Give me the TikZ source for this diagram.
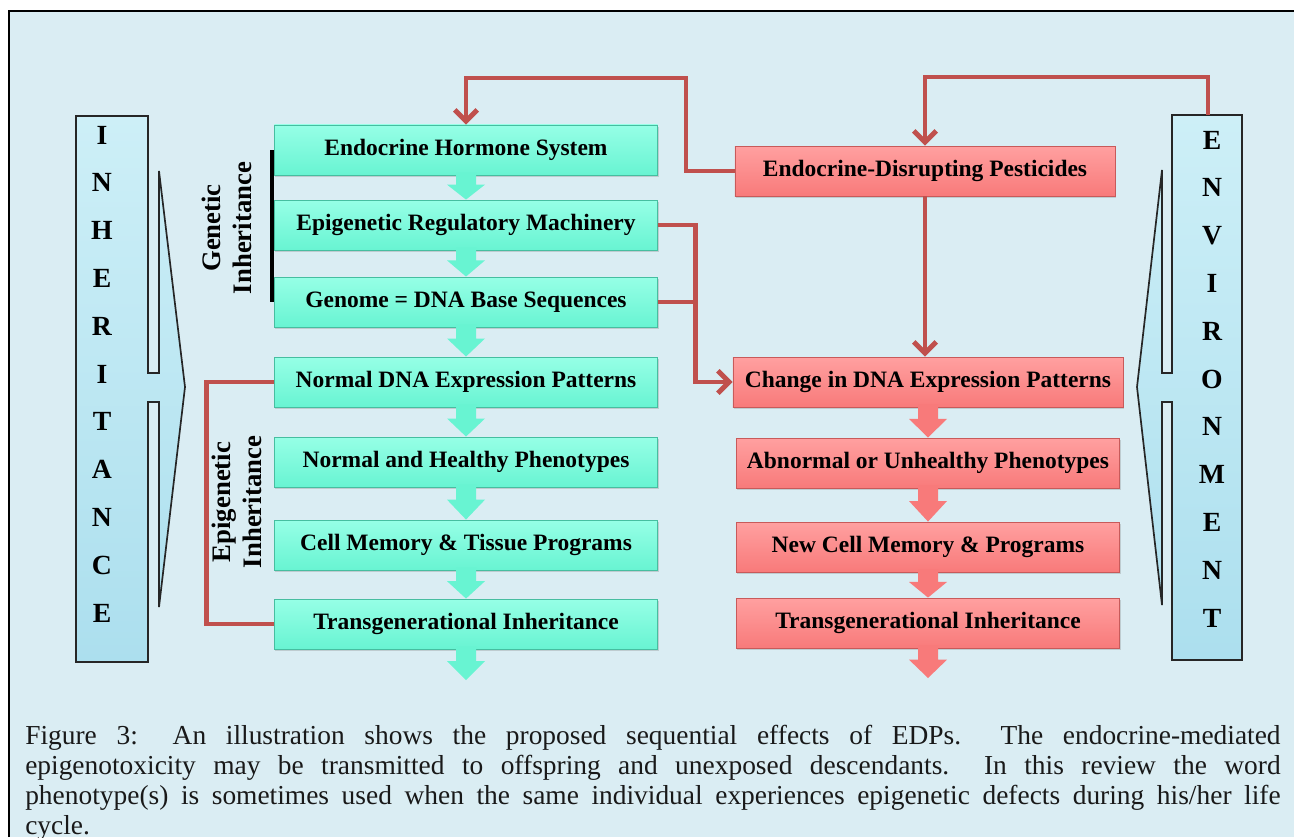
\documentclass[tikz,border=0pt]{standalone}
\usepackage{fontspec}
\setmainfont{Liberation Serif}
\usetikzlibrary{arrows.meta,calc,shadows,positioning}

\definecolor{panelblue}{RGB}{218,237,243}
\definecolor{boxgreen}{RGB}{104,244,210}
\definecolor{boxgreenhi}{RGB}{150,255,230}
\definecolor{boxgreenedge}{RGB}{70,190,160}
\definecolor{boxred}{RGB}{248,122,122}
\definecolor{boxredhi}{RGB}{255,160,160}
\definecolor{boxrededge}{RGB}{200,90,90}
\definecolor{linkred}{RGB}{192,80,77}
\definecolor{dropblue}{RGB}{172,223,238}
\definecolor{dropbluehi}{RGB}{205,239,247}

\tikzset{
  stepbase/.style={minimum width=9.58cm, minimum height=1.25cm, inner sep=0pt,
    font=\fontsize{16.7}{18}\selectfont\bfseries,
    drop shadow={shadow xshift=0.8pt,shadow yshift=-1.2pt,opacity=.3}},
  gbox/.style={stepbase, top color=boxgreenhi, bottom color=boxgreen, draw=boxgreenedge, line width=.6pt},
  rbox/.style={stepbase, top color=boxredhi, bottom color=boxred, draw=boxrededge, line width=.6pt},
  link/.style={draw=linkred, line width=3.5pt},
  linkarrow/.style={link, -{Straight Barb[length=8pt,width=16pt]}},
  sidebar/.style={draw=black!85, line width=1.2pt, top color=dropbluehi, bottom color=dropblue},
  sideletter/.style={inner sep=0pt, font=\fontsize{19.7}{20}\selectfont\bfseries},
  sidelabel/.style={inner sep=0pt, align=center, rotate=90, font=\fontsize{19}{22}\selectfont\bfseries}
}

\begin{document}
\begin{tikzpicture}[x=0.025cm, y=-0.025cm]
\useasboundingbox (0,0) rectangle (1294,837);

% panel and frame
\fill[panelblue] (9,11) rectangle (1294,837);
\draw[line width=2pt] (9,837) -- (9,11) -- (1294,11);

% side bars
\filldraw[sidebar] (76,116) -- (148,116) -- (148,373) -- (159,373) -- (159,171) -- (185,387)
  -- (159,607) -- (159,402) -- (148,402) -- (148,662) -- (76,662) -- cycle;
\filldraw[sidebar] (1242,115) -- (1172,115) -- (1172,373) -- (1162,373) -- (1162,170) -- (1137,387)
  -- (1162,605) -- (1162,402) -- (1172,402) -- (1172,660) -- (1242,660) -- cycle;
\foreach \l [count=\i from 0] in {I,N,H,E,R,I,T,A,N,C,E} {
\node[sideletter] (inh\i) at (102,{135+47.8*\i}) {\l};
}
\foreach \l [count=\i from 0] in {E,N,V,I,R,O,N,M,E,N,T} {
\node[sideletter] (env\i) at (1212,{140+47.8*\i}) {\l};
}

% left column
\node[gbox] (g1) at (466,150) {Endocrine Hormone System};
\node[gbox] (g2) at (466,225) {Epigenetic Regulatory Machinery};
\node[gbox] (g3) at (466,302) {Genome = DNA Base Sequences};
\node[gbox] (g4) at (466,382) {Normal DNA Expression Patterns};
\node[gbox] (g5) at (466,462) {Normal and Healthy Phenotypes};
\node[gbox] (g6) at (466,545) {Cell Memory \& Tissue Programs};
\node[gbox] (g7) at (466,624) {Transgenerational Inheritance};
\coordinate (gend) at (466,680);

% right column
\node[rbox, minimum width=9.5cm] (r0) at (925,171) {Endocrine-Disrupting Pesticides};
\node[rbox, minimum width=9.75cm] (r1) at (928,382) {Change in DNA Expression Patterns};
\node[rbox] (r2) at (928,463) {Abnormal or Unhealthy Phenotypes};
\node[rbox] (r3) at (928,547) {New Cell Memory \& Programs};
\node[rbox] (r4) at (928,623) {Transgenerational Inheritance};
\coordinate (rend) at (928,678);

% block arrows
\foreach \a/\b in {g1/g2,g2/g3,g3/g4,g4/g5,g5/g6,g6/g7,g7/gend} {
\fill[boxgreen] ($(\a.south)+(-10,-3)$) -- ($(\a.south)+(10,-3)$) -- ($(\a.south)!.38!(\b.north)+(10,0)$)
  -- ($(\a.south)!.38!(\b.north)+(19,0)$) -- (\b.north) -- ($(\a.south)!.38!(\b.north)+(-19,0)$)
  -- ($(\a.south)!.38!(\b.north)+(-10,0)$) -- cycle;
}
\foreach \a/\b in {r1/r2,r2/r3,r3/r4,r4/rend} {
\fill[boxred] ($(\a.south)+(-10,-3)$) -- ($(\a.south)+(10,-3)$) -- ($(\a.south)!.38!(\b.north)+(10,0)$)
  -- ($(\a.south)!.38!(\b.north)+(19,0)$) -- (\b.north) -- ($(\a.south)!.38!(\b.north)+(-19,0)$)
  -- ($(\a.south)!.38!(\b.north)+(-10,0)$) -- cycle;
}

% labels on the left
\draw[line width=2.8pt] ([xshift=-1.4pt]g1.west) -- ([xshift=-1.4pt]g3.west);
\node[sidelabel] (genlab) at (227,228) {Genetic\\Inheritance};
\node[sidelabel] (epilab) at (237,502) {Epigenetic\\Inheritance};

% red connectors
\coordinate (pestknee) at (686,78);
\coordinate (envtop) at (1208,115);
\coordinate (envknee) at (1208,77);
\draw[linkarrow] (r0.west) -| (pestknee) -| (g1.north);
\draw[linkarrow] (envtop) -- (envknee) -| (r0.north);
\draw[linkarrow] (r0.south) -- (r0.south |- r1.north);
\draw[linkarrow] (g2.east) -- ++(37,0) |- (r1.west);
\draw[link] (g3.east) -- ++(37,0);
\draw[link] (g4.west) -- ++(-67,0) |- (g7.west);

% caption
\node[anchor=north west, inner sep=0pt, text width=31.375cm, align=justify, text=black!90,
  font=\fontsize{19.5}{21.3}\selectfont] (caption) at (25,725)
  {\hyphenpenalty=10000 \exhyphenpenalty=10000
   Figure 3: An illustration shows the proposed sequential effects of EDPs.\ \ The endocrine-mediated\linebreak
   epigenotoxicity may be transmitted to offspring and unexposed descendants.\ \ In this review the word\linebreak
   phenotype(s) is sometimes used when the same individual experiences epigenetic defects during his/her life\linebreak
   cycle.};
\end{tikzpicture}
\end{document}
